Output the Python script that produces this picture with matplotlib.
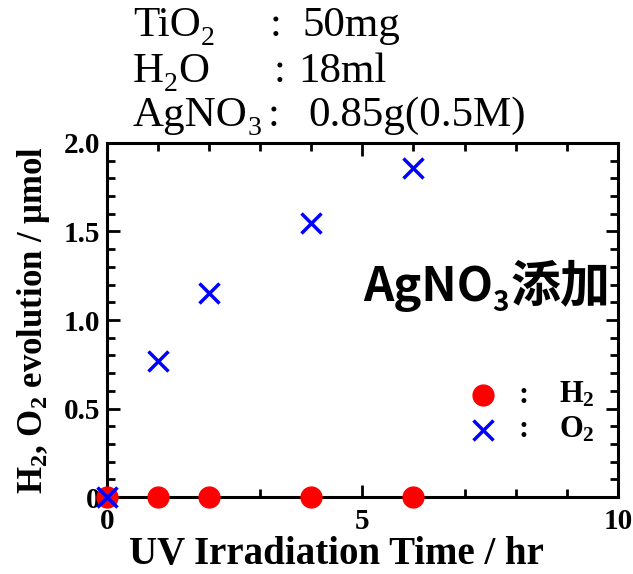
import matplotlib
matplotlib.use("Agg")
import matplotlib.pyplot as plt
from matplotlib.ticker import MultipleLocator

# データ
time_hr = [0, 1, 2, 4, 6]
h2_umol = [0, 0, 0, 0, 0]
o2_umol = [0, 0.768, 1.15, 1.55, 1.86]

x_ticks = [0, 5, 10]
y_ticks = [0, 0.5, 1.0, 1.5, 2.0]
y_tick_labels = ["0", "0.5", "1.0", "1.5", "2.0"]

serif = ["Liberation Serif", "DejaVu Serif"]
cjk = ["Noto Sans CJK JP", "DejaVu Sans"]

plt.rcParams["mathtext.fontset"] = "custom"
plt.rcParams["mathtext.rm"] = "Liberation Serif:bold"
plt.rcParams["mathtext.it"] = "Liberation Serif:bold"
plt.rcParams["mathtext.bf"] = "Liberation Serif:bold"

fig = plt.figure(figsize=(6.33, 5.74), dpi=100)
ax = fig.add_axes([0.169, 0.134, 0.807, 0.617])
renderer = fig.canvas.get_renderer()


def chain(x, y, parts, family):
    """文字列を横に並べる (下付き文字用), parts = [(text, size, dy_px)]"""
    W, H = fig.bbox.width, fig.bbox.height
    for s, size, dy in parts:
        t = fig.text(x, y - dy / H, s, family=family, fontsize=size, va="baseline")
        x += t.get_window_extent(renderer).width / W


ax.plot(time_hr, h2_umol, "o", color="red", markersize=15, clip_on=False, zorder=3)
ax.plot(time_hr, o2_umol, "x", color="blue", markersize=15, markeredgewidth=2.5,
        clip_on=False, zorder=4)

ax.set_xlim(0, 10)
ax.set_ylim(0, 2.0)
ax.set_xticks(x_ticks)
ax.set_yticks(y_ticks)
ax.set_yticklabels(y_tick_labels)
ax.xaxis.set_minor_locator(MultipleLocator(1))
ax.yaxis.set_minor_locator(MultipleLocator(0.1))
ax.tick_params(which="both", direction="in", top=True, right=True, width=2)
ax.tick_params(which="major", length=9)
ax.tick_params(which="minor", length=6)
ax.tick_params(axis="x", pad=8)
ax.tick_params(axis="y", pad=5)
for s in ax.spines.values():
    s.set_linewidth(2.2)

for lab in ax.get_xticklabels() + ax.get_yticklabels():
    lab.set_family(serif)
    lab.set_fontweight("bold")
    lab.set_fontsize(21)

ax.set_xlabel("UV Irradiation Time / hr", family=serif, fontweight="bold",
              fontsize=28)
ax.xaxis.set_label_coords(0.532, 0.018, transform=fig.transFigure)
ax.xaxis.label.set_va("baseline")
ax.set_ylabel(r"H$_2$, O$_2$ evolution / μmol", family=serif, fontweight="bold",
              fontsize=25, labelpad=8)

# 条件
names = [[("TiO", 31, 0), ("2", 20, 9)],
         [("H", 31, 0), ("2", 20, 9), ("O", 31, 0)],
         [("AgNO", 31, 0), ("3", 20, 9)]]
colon_x = [0.426, 0.433, 0.422]
values = ["50mg", "18ml", "0.85g(0.5M)"]
value_x = [0.477, 0.471, 0.487]
base_y = [0.937, 0.857, 0.780]
for parts, cx, val, vx, yy in zip(names, colon_x, values, value_x, base_y):
    chain(0.210, yy, parts, serif)
    fig.text(cx, yy, ":", family=serif, fontsize=31, va="baseline")
    fig.text(vx, yy, val, family=serif, fontsize=31, va="baseline")

# AgNO3添加 (軸の右端で切れる)
for s, xx, yy, size in [("AgNO", 0.574, 0.476, 34), ("3", 0.778, 0.458, 20),
                        ("添加", 0.806, 0.476, 36)]:
    ax.text(xx, yy, s, family=cjk, fontsize=size, fontweight="bold", va="baseline",
            transform=fig.transFigure, clip_on=True)

# 凡例
ax.plot([7.36], [0.576], "o", color="red", markersize=15)
ax.plot([7.36], [0.379], "x", color="blue", markersize=14, markeredgewidth=2.5)
for yy, lab in [(0.576, r"H$_2$"), (0.379, r"O$_2$")]:
    ax.text(8.05, yy, ":", fontsize=22, fontweight="bold", family=serif, va="center")
    ax.text(8.85, yy, lab, fontsize=22, fontweight="bold", family=serif, va="center")

fig.savefig("out.png", dpi=100)
